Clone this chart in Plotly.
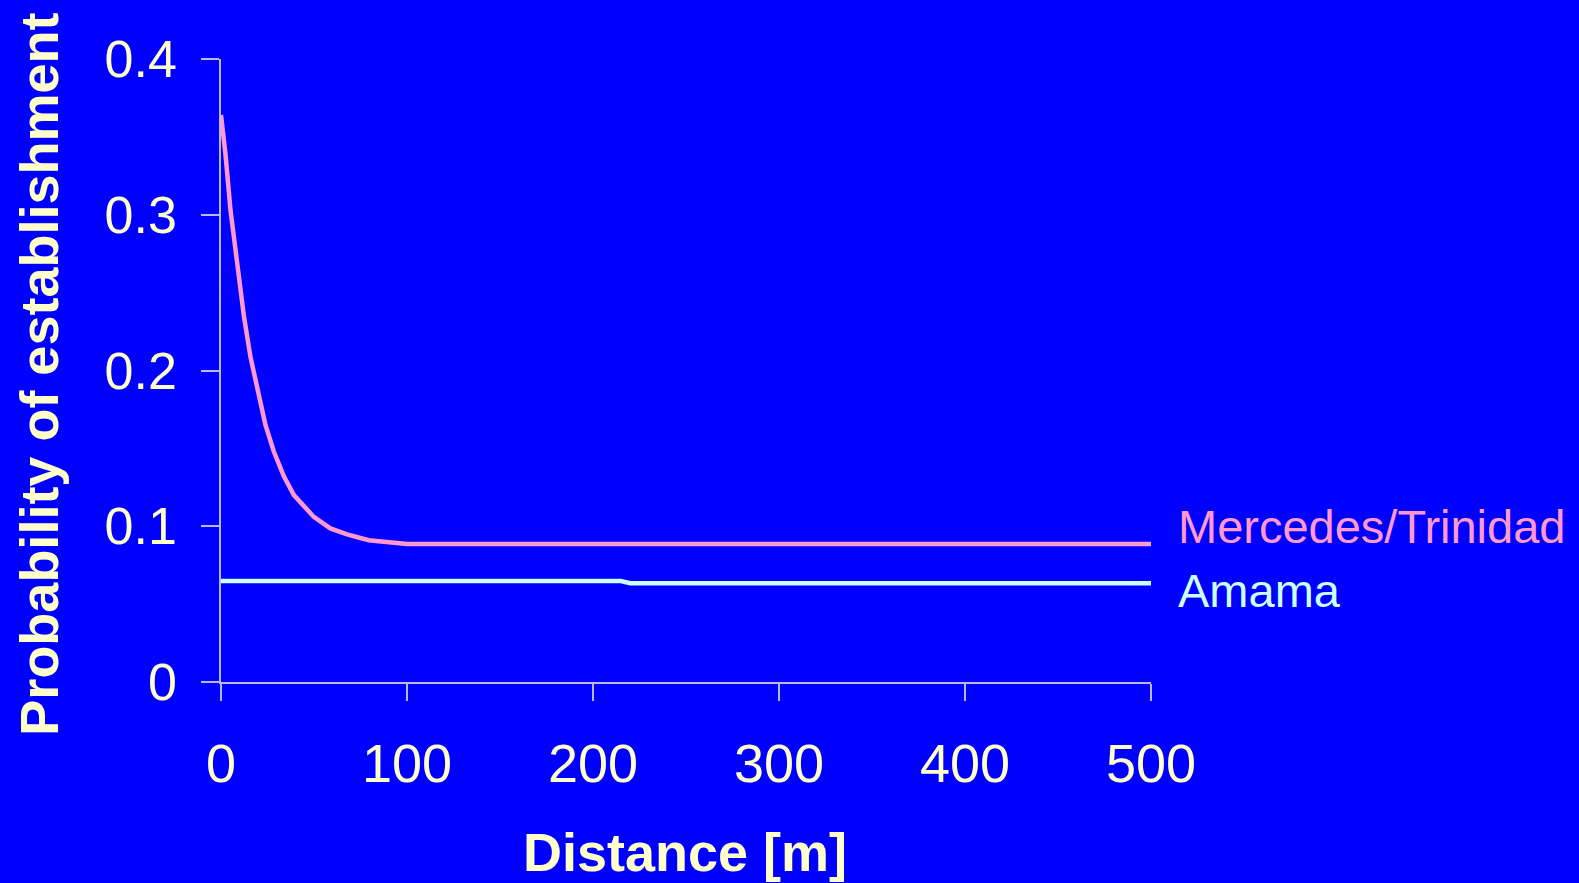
import plotly.graph_objects as go

# Data
merc_x = [0, 2.4, 5.1, 7.8, 9.6, 12.3, 15.8, 19.4, 22.1, 23.9, 28.4, 33.8, 39.2, 49.9, 58.8, 67.8, 79.4, 100, 200, 300, 400, 500]
merc_y = [0.364, 0.339, 0.303, 0.278, 0.257, 0.235, 0.209, 0.189, 0.176, 0.165, 0.148, 0.132, 0.120, 0.106, 0.0986, 0.0948, 0.091, 0.0886, 0.0886, 0.0886, 0.0886, 0.0886]
amama_x = [0, 100, 200, 215, 220, 300, 400, 500]
amama_y = [0.0648, 0.0648, 0.0648, 0.0648, 0.0634, 0.0634, 0.0634, 0.0634]

x_ticks = [0, 100, 200, 300, 400, 500]
x_ticktext = ["0", "100", "200", "300", "400", "500"]
y_ticks = [0, 0.1, 0.2, 0.3, 0.4]
y_ticktext = ["0", "0.1", "0.2", "0.3", "0.4"]

series_names = ["Mercedes/Trinidad", "Amama"]
x_title = "Distance [m]"
y_title = "Probability of establishment"

BG = "#0000FF"
PINK = "#FF99CC"
CYAN = "#CCFFFF"
YEL = "#FFFFCC"
AXIS = "#B8B8F0"
FONT = "Liberation Sans, Arial, sans-serif"

fig = go.Figure()
fig.add_trace(go.Scatter(x=merc_x, y=merc_y, mode="lines", name=series_names[0],
                         line=dict(color=PINK, width=4.5, shape="linear"), cliponaxis=False))
fig.add_trace(go.Scatter(x=amama_x, y=amama_y, mode="lines", name=series_names[1],
                         line=dict(color=CYAN, width=4.5), cliponaxis=False))

fig.update_layout(
    width=1579, height=883,
    margin=dict(l=220.5, r=428, t=59.4, b=201.3),
    paper_bgcolor=BG, plot_bgcolor=BG,
    showlegend=False,
    font=dict(family=FONT, color=YEL),
    xaxis=dict(range=[0, 500], tickvals=x_ticks, ticktext=x_ticktext,
               showgrid=False, zeroline=False, showline=True, linecolor=AXIS, linewidth=1.5,
               ticks="outside", ticklen=17, tickcolor=AXIS, tickwidth=1.5,
               tickfont=dict(family=FONT, size=54, color=YEL), ticklabelstandoff=16),
    yaxis=dict(range=[0, 0.4], tickvals=y_ticks, ticktext=y_ticktext,
               showgrid=False, zeroline=False, showline=True, linecolor=AXIS, linewidth=1.5,
               ticks="outside", ticklen=18, tickcolor=AXIS, tickwidth=1.5,
               tickfont=dict(family=FONT, size=52, color=YEL), ticklabelstandoff=14),
    annotations=[
        dict(text=series_names[0], xref="paper", yref="paper", x=1.027, y=0.2502,
             xanchor="left", yanchor="middle", showarrow=False,
             font=dict(family=FONT, size=47, color=PINK)),
        dict(text=series_names[1], xref="paper", yref="paper", x=1.027, y=0.1475,
             xanchor="left", yanchor="middle", showarrow=False,
             font=dict(family=FONT, size=47, color=CYAN)),
        dict(text="<b>" + x_title + "</b>", xref="paper", yref="paper", x=0.4992, y=-0.2735,
             xanchor="center", yanchor="middle", showarrow=False,
             font=dict(family=FONT, size=54, color=YEL)),
        dict(text="<b>" + y_title + "</b>", xref="paper", yref="paper", x=-0.196, y=0.4945,
             xanchor="center", yanchor="middle", showarrow=False, textangle=-90,
             font=dict(family=FONT, size=54, color=YEL)),
    ],
)

fig.write_html("out.html")
